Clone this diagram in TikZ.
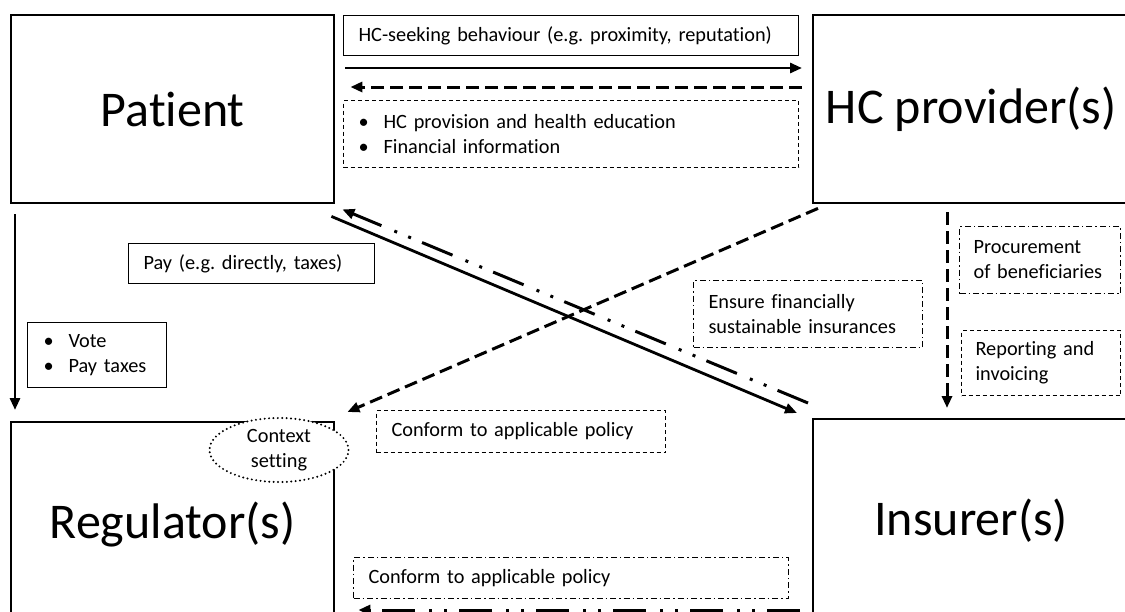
\documentclass[tikz,border=0pt]{standalone}
\usepackage{fontspec}
\setmainfont{Carlito}[Ligatures={NoCommon}]
\usetikzlibrary{arrows.meta,shapes.geometric,calc}
\tikzset{
  mainbox/.style={draw, line width=2.4pt, rectangle, inner sep=0pt, font=\fontsize{50}{60}\selectfont},
  lbl/.style={rectangle, line width=1.1pt, inner xsep=15pt, inner ysep=0pt, align=left, font=\fontsize{20.3}{25}\selectfont},
  lblsolid/.style={lbl, draw},
  lbldash/.style={lbl, draw, dash pattern=on 4pt off 3pt},
  lbldashdot/.style={lbl, draw, dash pattern=on 6pt off 3pt on 1.5pt off 3pt},
  tip/.style={-{Triangle[length=12pt,width=10pt]}},
  solidarrow/.style={tip, line width=2.8pt},
  dasharrow/.style={tip, line width=3pt, dash pattern=on 13pt off 6pt},
  ddarrow/.style={tip, line width=3pt, dash pattern=on 33pt off 12pt on 3pt off 12pt on 3pt off 14pt},
  dottedell/.style={ellipse, draw, fill=white, line width=2.2pt, line cap=round, dash pattern=on 0pt off 4.4pt, inner sep=0pt, align=center, font=\fontsize{20.3}{25}\selectfont}
}
\newcommand{\bul}{\makebox[25pt][l]{•}}
\frenchspacing
\begin{document}
\begin{tikzpicture}[x=1pt,y=-1pt]
\useasboundingbox (0,0) rectangle (1125,611);
\clip (0,0) rectangle (1125,611);
\fill[white] (0,0) rectangle (1125,611);
% main boxes
\node[mainbox, anchor=north west, minimum width=323pt, minimum height=188pt] (patient) at (10,14) {Patient};
\node[mainbox, anchor=north west, minimum width=316pt, minimum height=188pt] (hcp) at (812,14) {HC provider(s)};
\node[mainbox, anchor=north west, minimum width=323pt, minimum height=204pt] (reg) at (10,421) {Regulator(s)};
\node[mainbox, anchor=north west, minimum width=316pt, minimum height=202pt] (ins) at (812,418) {Insurer(s)};
\node[dottedell, minimum width=139pt, minimum height=64pt] (ctx) at (279,450) {Context\\setting};
% label boxes
\node[lblsolid, anchor=north west, minimum height=40pt, text width=425pt] (seek) at (343,15) {HC-seeking behaviour (e.g. proximity, reputation)};
\node[lbldash, anchor=north west, minimum height=67pt, text width=425pt] (prov) at (343,100) {\bul HC provision and health education\\\bul Financial information};
\node[lblsolid, anchor=north west, minimum height=40pt, text width=216pt] (pay) at (128,243) {Pay (e.g. directly, taxes)};
\node[lblsolid, anchor=north west, minimum height=65pt, text width=107pt, inner xsep=16pt] (vote) at (27,322) {\bul Vote\\\bul Pay taxes};
\node[lbldashdot, anchor=north west, minimum height=67pt, text width=199pt] (ensure) at (693,280) {Ensure financially\\sustainable insurances};
\node[lbldashdot, anchor=north west, minimum height=67pt, text width=133pt, inner xsep=14pt] (proc) at (959,226) {Procurement\\of beneficiaries};
\node[lbldash, anchor=north west, minimum height=65pt, text width=131pt, inner xsep=14pt] (report) at (961,330) {Reporting and\\invoicing};
\node[lbldash, anchor=north west, minimum height=42pt, text width=259pt] (conf1) at (376,410) {Conform to applicable policy};
\node[lbldashdot, anchor=north west, minimum height=41pt, text width=405pt] (conf2) at (353,557) {Conform to applicable policy};
% connectors
\draw[solidarrow] ([shift={(10,54)}]patient.north east) -- ([shift={(-10,54)}]hcp.north west);
\draw[dasharrow] ([shift={(-10,73)}]hcp.north west) -- ([shift={(15,73)}]patient.north east);
\draw[solidarrow] ([shift={(5,10)}]patient.south west) -- ([shift={(5,-11)}]reg.north west);
\draw[solidarrow] ([shift={(-4,12)}]patient.south east) -- ([shift={(-15,-5)}]ins.north west);
\draw[ddarrow] ([shift={(-4,-15)}]ins.north west) -- ([shift={(7,5)}]patient.south east);
\draw[dasharrow] ([shift={(6,4)}]hcp.south west) -- ([shift={(12,-9)}]reg.north east);
\draw[dasharrow] ([shift={(135,8)}]hcp.south west) -- ([shift={(135,-10)}]ins.north west);
\draw[ddarrow] ([shift={(-12,192)}]ins.north west) -- ([shift={(23,189)}]reg.north east);
\end{tikzpicture}
\end{document}
